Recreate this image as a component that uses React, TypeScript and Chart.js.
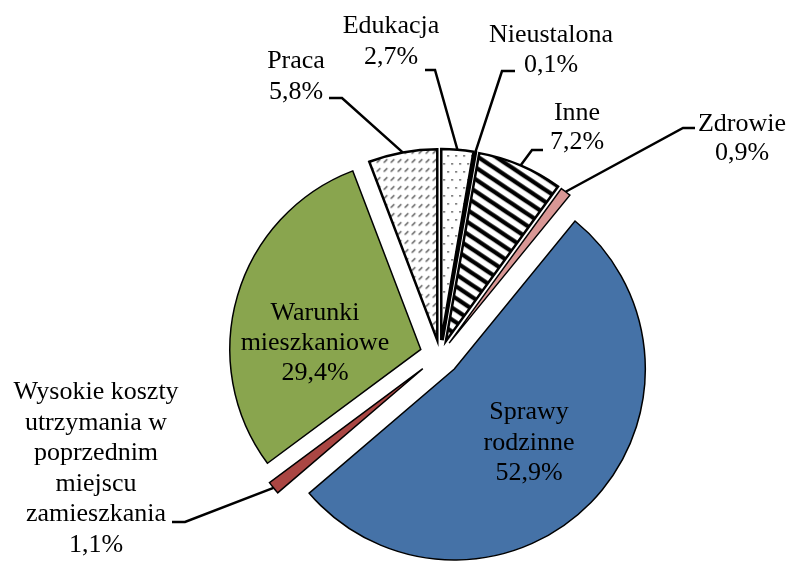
import { useEffect, useRef } from 'react';
import { Chart, registerables } from 'chart.js';

Chart.register(...registerables);

// ---- data ----
const categories = [
  'Edukacja',
  'Nieustalona',
  'Inne',
  'Zdrowie',
  'Sprawy rodzinne',
  'Wysokie koszty utrzymania w poprzednim miejscu zamieszkania',
  'Warunki mieszkaniowe',
  'Praca',
];
const shares = [2.7, 0.1, 7.2, 0.9, 52.9, 1.1, 29.4, 5.8];
const labelLines = [
  ['Edukacja'],
  ['Nieustalona'],
  ['Inne'],
  ['Zdrowie'],
  ['Sprawy', 'rodzinne'],
  ['Wysokie koszty', 'utrzymania w', 'poprzednim', 'miejscu', 'zamieszkania'],
  ['Warunki', 'mieszkaniowe'],
  ['Praca'],
];

// ---- layout / style ----
const explode = [15, 15, 15, 15, 20, 22, 20, 15];
const borderWidths = [2.5, 2.5, 2.5, 1.5, 1.5, 1.5, 1.5, 2.5];
type LabelPos = { x: number; y: number; lh: number; elbow?: [number, number]; tick?: [number, number] };
const labelLayout: LabelPos[] = [
  { x: 391, y: 33, lh: 31, elbow: [435, 70], tick: [425, 70] },
  { x: 551, y: 42, lh: 30, elbow: [502, 71], tick: [515, 71] },
  { x: 577, y: 120, lh: 29, elbow: [532, 150], tick: [543, 150] },
  { x: 742, y: 131, lh: 29, elbow: [683, 128], tick: [695, 128] },
  { x: 529, y: 419, lh: 30.5 },
  { x: 96, y: 399, lh: 30.6, elbow: [185, 522], tick: [172, 522] },
  { x: 315, y: 320, lh: 30 },
  { x: 296, y: 68, lh: 31, elbow: [342, 98], tick: [329, 98] },
];
const FONT = '26px "Liberation Serif", "Times New Roman", serif';

function makeTile(w: number, h: number, draw: (c: CanvasRenderingContext2D) => void, ctx: CanvasRenderingContext2D) {
  const t = document.createElement('canvas');
  t.width = w;
  t.height = h;
  const c = t.getContext('2d')!;
  c.fillStyle = '#ffffff';
  c.fillRect(0, 0, w, h);
  draw(c);
  return ctx.createPattern(t, 'repeat')!;
}

export default function App() {
  const ref = useRef<HTMLCanvasElement>(null);

  useEffect(() => {
    const canvas = ref.current!;
    const ctx = canvas.getContext('2d')!;

    const dots = makeTile(8, 16, (c) => {
      c.fillStyle = '#444';
      c.fillRect(2, 2, 1.6, 1.6);
      c.fillRect(6, 10, 1.6, 1.6);
    }, ctx);
    const SW = 18;
    const SH = 12;
    const stripes = makeTile(SW, SH, (c) => {
      c.strokeStyle = '#000';
      c.lineWidth = 4.3;
      for (let k = -2; k <= 2; k++) {
        c.beginPath();
        c.moveTo(-SW, k * SH - SH);
        c.lineTo(2 * SW, k * SH + 2 * SH);
        c.stroke();
      }
    }, ctx);
    const dashes = makeTile(7, 9, (c) => {
      c.strokeStyle = '#4a4a4a';
      c.lineWidth = 1.3;
      c.beginPath();
      c.moveTo(1.5, 6.5);
      c.lineTo(5, 3);
      c.stroke();
    }, ctx);

    const fills: any[] = [dots, '#ffffff', stripes, '#D99795', '#4572A7', '#AA4643', '#89A54E', dashes];

    const explodePlugin = {
      id: 'explodeDraw',
      beforeDatasetDraw(chart: any, args: any) {
        const c = chart.ctx;
        args.meta.data.forEach((arc: any, i: number) => {
          const mid = (arc.startAngle + arc.endAngle) / 2;
          c.save();
          c.translate(Math.cos(mid) * explode[i], Math.sin(mid) * explode[i]);
          arc.draw(c);
          c.restore();
        });
        return false;
      },
    };

    const labelPlugin = {
      id: 'sliceLabels',
      afterDraw(chart: any) {
        const c = chart.ctx;
        const meta = chart.getDatasetMeta(0);
        c.save();
        meta.data.forEach((arc: any, i: number) => {
          const L = labelLayout[i];
          const mid = (arc.startAngle + arc.endAngle) / 2;
          const r = arc.outerRadius + explode[i];
          const ax = arc.x + Math.cos(mid) * r;
          const ay = arc.y + Math.sin(mid) * r;
          if (L.elbow && L.tick) {
            c.strokeStyle = '#000';
            c.lineWidth = 2.5;
            c.lineJoin = 'miter';
            c.beginPath();
            c.moveTo(ax, ay);
            c.lineTo(L.elbow[0], L.elbow[1]);
            c.lineTo(L.tick[0], L.tick[1]);
            c.stroke();
          }
          const value = shares[i].toFixed(1).replace('.', ',') + '%';
          const lines = [...labelLines[i], value];
          c.fillStyle = '#000';
          c.font = FONT;
          c.textAlign = 'center';
          c.textBaseline = 'alphabetic';
          lines.forEach((t, k) => c.fillText(t, L.x, L.y + k * L.lh));
        });
        c.restore();
      },
    };

    const chart = new Chart(canvas, {
      type: 'pie',
      data: {
        labels: categories,
        datasets: [
          {
            data: shares,
            backgroundColor: fills,
            borderColor: '#000000',
            borderWidth: borderWidths,
            borderJoinStyle: 'miter',
          } as any,
        ],
      },
      options: {
        responsive: false,
        animation: false,
        devicePixelRatio: 1,
        radius: 191,
        layout: { padding: { left: 90, right: 0, top: 149, bottom: 0 } },
        plugins: { legend: { display: false }, tooltip: { enabled: false } },
        events: [],
      } as any,
      plugins: [explodePlugin, labelPlugin],
    });
    return () => chart.destroy();
  }, []);

  return (
    <div style={{ position: 'fixed', left: 0, top: 0, width: 790, height: 561, background: '#fff' }}>
      <canvas ref={ref} width={790} height={561} style={{ width: 790, height: 561, display: 'block' }} />
    </div>
  );
}
